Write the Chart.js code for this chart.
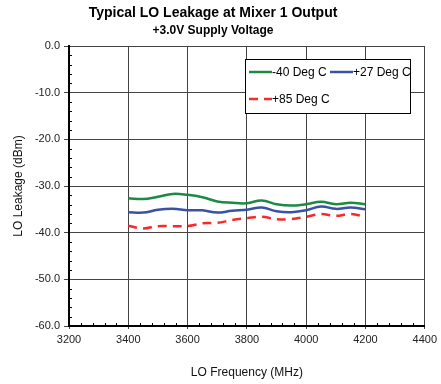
<!DOCTYPE html>
<html>
<head>
<meta charset="utf-8">
<script src="https://cdn.jsdelivr.net/npm/chart.js@4/dist/chart.umd.min.js"></script>
<style>
  html, body { margin: 0; padding: 0; background: #fff; }
  #wrap { width: 441px; height: 384px; position: relative; }
</style>
</head>
<body>
<div id="wrap"><canvas id="leakChart" width="441" height="384"></canvas></div>
<script>
// LO leakage vs LO frequency, three temperatures
const freqMHz = [3400, 3450, 3500, 3550, 3600, 3650, 3700, 3750, 3800, 3850, 3900, 3950, 4000, 4050, 4100, 4150, 4200];
const leakCold = [-32.6, -32.8, -32.3, -31.7, -31.9, -32.4, -33.3, -33.6, -33.7, -33.1, -33.9, -34.2, -33.9, -33.4, -33.9, -33.6, -33.9];
const leakRoom = [-35.6, -35.7, -35.1, -34.9, -35.2, -35.2, -35.7, -35.3, -35.1, -34.6, -35.4, -35.6, -35.2, -34.4, -34.9, -34.6, -35.0];
const leakHot  = [-38.5, -39.1, -38.6, -38.6, -38.6, -38.0, -37.9, -37.3, -36.9, -36.6, -37.1, -37.1, -36.6, -36.0, -36.4, -36.0, -36.6];
const seriesLabels = ['-40 Deg C', '+27 Deg C', '+85 Deg C'];
const xTicks = [3200, 3400, 3600, 3800, 4000, 4200, 4400];
const yTicks = [0, -10, -20, -30, -40, -50, -60];

const FONT = '"Liberation Sans", Arial, sans-serif';

function toPoints(ys) {
    return freqMHz.map((f, i) => ({ x: f, y: ys[i] }));
}

// title block, minor ticks and the boxed legend inside the plot
const decorations = {
    id: 'decorations',
    afterDraw(chart) {
        const ctx = chart.ctx;
        const { x, y } = chart.scales;
        const area = chart.chartArea;

        ctx.save();
        ctx.fillStyle = '#000';
        ctx.textAlign = 'center';
        ctx.textBaseline = 'middle';
        ctx.font = 'bold 14px ' + FONT;
        ctx.fillText('Typical LO Leakage at Mixer 1 Output', 213, 13);
        ctx.font = 'bold 12px ' + FONT;
        ctx.fillText('+3.0V Supply Voltage', 213, 31);

        // minor ticks
        ctx.strokeStyle = '#000';
        ctx.lineWidth = 1;
        ctx.beginPath();
        for (let v = -58; v < 0; v += 2) {
            if (v % 10 === 0) continue;
            const py = Math.round(y.getPixelForValue(v)) + 0.5;
            ctx.moveTo(area.left, py);
            ctx.lineTo(area.left + 3, py);
        }
        for (let f = 3240; f < 4400; f += 40) {
            if (f % 200 === 0) continue;
            const px = Math.round(x.getPixelForValue(f)) + 0.5;
            ctx.moveTo(px, area.bottom);
            ctx.lineTo(px, area.bottom - 3);
        }
        ctx.stroke();

        // legend box
        const bx = 245.5, by = 59.5, bw = 165, bh = 54;
        ctx.fillStyle = '#fff';
        ctx.fillRect(bx, by, bw, bh);
        ctx.strokeStyle = '#000';
        ctx.strokeRect(bx, by, bw, bh);

        const items = [
            { ds: chart.data.datasets[0], lx: 249, ly: 72 },
            { ds: chart.data.datasets[1], lx: 330, ly: 72 },
            { ds: chart.data.datasets[2], lx: 249, ly: 99 }
        ];
        ctx.font = '12px ' + FONT;
        ctx.textAlign = 'left';
        items.forEach(it => {
            ctx.strokeStyle = it.ds.borderColor;
            ctx.lineWidth = 2.5;
            ctx.setLineDash(it.ds.borderDash || []);
            ctx.beginPath();
            ctx.moveTo(it.lx, it.ly);
            ctx.lineTo(it.lx + 23, it.ly);
            ctx.stroke();
            ctx.setLineDash([]);
            ctx.fillStyle = '#000';
            ctx.fillText(it.ds.label, it.lx + 23, it.ly + 1);
        });
        ctx.restore();
    }
};

new Chart(document.getElementById('leakChart'), {
    type: 'line',
    data: {
        datasets: [
            { label: seriesLabels[0], data: toPoints(leakCold), borderColor: '#1d8a43' },
            { label: seriesLabels[1], data: toPoints(leakRoom), borderColor: '#3a52a4' },
            { label: seriesLabels[2], data: toPoints(leakHot), borderColor: '#f52a2a', borderDash: [9, 6] }
        ].map(d => Object.assign(d, { borderWidth: 2.5, pointRadius: 0, fill: false, tension: 0.4 }))
    },
    options: {
        responsive: false,
        animation: false,
        layout: { padding: { left: 0, right: 15, top: 46, bottom: 0 } },
        plugins: { legend: { display: false }, title: { display: false }, tooltip: { enabled: false } },
        scales: {
            x: {
                type: 'linear',
                min: 3200,
                max: 4400,
                afterBuildTicks: s => { s.ticks = xTicks.map(v => ({ value: v })); },
                afterFit: s => { s.height = 58; },
                grid: { color: '#444', lineWidth: 1, tickLength: 3 },
                border: { color: '#000', width: 2 },
                ticks: { color: '#222', font: { family: FONT, size: 11 }, padding: 4, maxRotation: 0, autoSkip: false, callback: v => String(v) },
                title: { display: true, text: 'LO Frequency (MHz)', color: '#111', font: { family: FONT, size: 12 }, padding: { top: 20 } }
            },
            y: {
                min: -60,
                max: 0,
                afterBuildTicks: s => { s.ticks = yTicks.map(v => ({ value: v })); },
                afterFit: s => { s.width = 69; },
                grid: { color: '#444', lineWidth: 1, tickLength: 5 },
                border: { color: '#000', width: 2 },
                ticks: { color: '#222', font: { family: FONT, size: 11 }, padding: 4, autoSkip: false, callback: v => v.toFixed(1) },
                title: { display: true, text: 'LO Leakage (dBm)', color: '#111', font: { family: FONT, size: 12 }, padding: { top: 11, bottom: 0 } }
            }
        }
    },
    plugins: [decorations]
});
</script>
</body>
</html>
